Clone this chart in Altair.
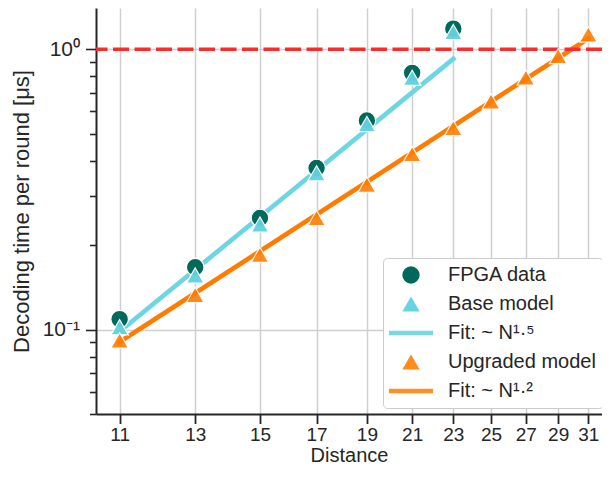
import altair as alt
import pandas as pd

# ---- data ----
distance_fpga = [11, 13, 15, 17, 19, 21, 23]
fpga_data = [0.109, 0.167, 0.250, 0.377, 0.557, 0.824, 1.185]
base_model = [0.102, 0.156, 0.237, 0.361, 0.541, 0.791, 1.153]

distance_upgraded = [11, 13, 15, 17, 19, 21, 23, 25, 27, 29, 31]
upgraded_model = [0.0915, 0.133, 0.185, 0.250, 0.329, 0.423, 0.524, 0.652, 0.793, 0.946, 1.13]

fit_base_x = [11, 23]
fit_base_y = [0.0985, 0.925]
fit_up_x = [11, 31]
fit_up_y = [0.0903, 1.093]

threshold = [1.0]

x_ticks = [11, 13, 15, 17, 19, 21, 23, 25, 27, 29, 31]
y_ticks = [0.05, 0.06, 0.07, 0.08, 0.09, 0.1, 0.2, 0.3, 0.4, 0.5, 0.6, 0.7, 0.8, 0.9, 1.0]

labels = ["FPGA data", "Base model", "Fit:  ~ N¹·⁵", "Upgraded model", "Fit:  ~ N¹·²"]
colors = ["#00695c", "#62d2df", "#6dd6e2", "#ff7c00", "#ff7c00"]
line_shape = "M-2.55,-0.27L2.55,-0.27L2.55,0.27L-2.55,0.27Z"
shapes = ["circle", "triangle-up", line_shape, "triangle-up", line_shape]

# ---- tables ----
points = pd.concat(
    [
        pd.DataFrame({"distance": distance_fpga, "time": fpga_data, "series": labels[0]}),
        pd.DataFrame({"distance": distance_fpga, "time": base_model, "series": labels[1]}),
        pd.DataFrame({"distance": distance_upgraded, "time": upgraded_model, "series": labels[3]}),
    ],
    ignore_index=True,
)
fit_base = pd.DataFrame({"distance": fit_base_x, "time": fit_base_y})
fit_up = pd.DataFrame({"distance": fit_up_x, "time": fit_up_y})
thr = pd.DataFrame({"time": threshold})

FONT = "Liberation Sans"
DARK = "#262626"

xscale = alt.Scale(type="log", domain=[10.44, 31.95], nice=False)
yscale = alt.Scale(type="log", domain=[0.05, 1.404], nice=False)

major = "datum.value == 0.1 || datum.value == 1"
xaxis = alt.Axis(
    values=x_ticks, format="d", title="Distance",
    tickSize=9.5, tickWidth=1.8, tickColor=DARK,
    labelPadding=2, titlePadding=1,
    labelFontSize=19, titleFontSize=20,
    gridColor="#cfcfcf", gridWidth=1.5,
)
yaxis = alt.Axis(
    values=y_ticks,
    title="Decoding time per round [μs]",
    labelExpr="datum.value == 1 ? '10⁰' : (datum.value == 0.1 ? '10⁻¹' : '')",
    tickSize={"condition": {"test": major, "value": 10.5}, "value": 6.5},
    tickWidth=1.6, tickColor=DARK,
    gridOpacity={"condition": {"test": major, "value": 1}, "value": 0},
    gridColor="#cfcfcf", gridWidth=1.5,
    labelPadding=6, titlePadding=9,
    labelFontSize=21, titleFontSize=22,
)

X = alt.X("distance:Q", scale=xscale, axis=xaxis)
Y = alt.Y("time:Q", scale=yscale, axis=yaxis)

line_base = alt.Chart(fit_base).mark_line(
    strokeWidth=4.7, strokeCap="square", color="#6dd6e2"
).encode(x=X, y=Y)

line_up = alt.Chart(fit_up).mark_line(
    strokeWidth=4.7, strokeCap="square", color="#ff7c00"
).encode(x=X, y=Y)

rule = alt.Chart(thr).mark_rule(
    color="#ff2a2a", strokeWidth=3.5, strokeDash=[16, 5.5]
).encode(y=Y)

legend = alt.Legend(
    title=None, orient="none", legendX=287, legendY=250,
    padding=7, rowPadding=9, symbolOffset=11, labelOffset=27,
    fillColor="white", strokeColor="#cccccc", cornerRadius=4,
    labelFontSize=20, labelFont=FONT, labelColor=DARK, labelLimit=260,
    symbolSize=300, symbolStrokeWidth=0, symbolOpacity=1,
)

pts = alt.Chart(points).mark_point(
    filled=True, size=310, stroke="white", strokeWidth=1.2
).encode(
    x=X,
    y=Y,
    color=alt.Color("series:N", scale=alt.Scale(domain=labels, range=colors), legend=legend),
    shape=alt.Shape("series:N", scale=alt.Scale(domain=labels, range=shapes), legend=legend),
    opacity=alt.Opacity(
        "series:N",
        scale=alt.Scale(domain=labels, range=[1, 0.85, 1, 1, 1]),
        legend=None,
    ),
)

chart = (
    alt.layer(line_base, line_up, rule, pts)
    .properties(
        width=506, height=406,
        autosize=alt.AutoSizeParams(type="none"),
        padding={"left": 88, "top": 0, "right": 0, "bottom": 53},
    )
    .configure_view(stroke=None)
    .configure_axis(
        labelFont=FONT, titleFont=FONT,
        labelColor=DARK, titleColor=DARK, titleFontWeight="normal",
        domainColor=DARK, domainWidth=2,
    )
)

chart.save("out.html", embed_options={"renderer": "svg", "actions": False})
